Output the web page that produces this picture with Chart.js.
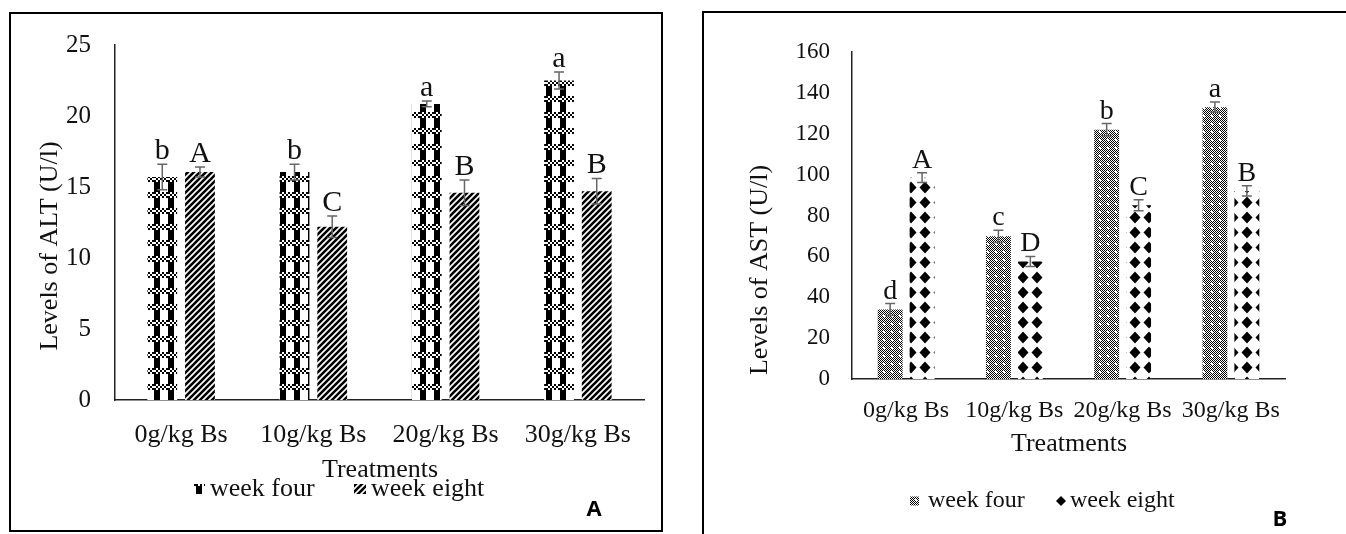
<!DOCTYPE html>
<html>
<head>
<meta charset="utf-8">
<title>Levels of ALT and AST</title>
<script src="https://cdn.jsdelivr.net/npm/chart.js@4.4.0/dist/chart.umd.min.js"></script>
<style>
	html, body { margin: 0; padding: 0; background: #fff; overflow: hidden; }
	body { width: 1346px; height: 534px; position: relative; }
	.frame { position: absolute; border: 2px solid #000; box-sizing: border-box; }
	#frameA { left: 9px; top: 12px; width: 654px; height: 520px; }
	#frameB { left: 702px; top: 11px; width: 700px; height: 600px; }
	.box { position: absolute; top: 0; }
</style>
</head>
<body>
<div class="frame" id="frameA"></div>
<div class="frame" id="frameB"></div>
<div class="box" style="left:0;width:672px;height:534px"><canvas id="chartA"></canvas></div>
<div class="box" style="left:680px;width:666px;height:534px"><canvas id="chartB"></canvas></div>
<script>
	// data
	const treatments = ['0g/kg Bs', '10g/kg Bs', '20g/kg Bs', '30g/kg Bs'];
	const seriesNames = ['week four', 'week eight'];

	const altWeekFour = [15.7, 16.05, 20.85, 22.5];
	const altWeekFourErr = [0.9, 0.55, 0.2, 0.6];
	const altWeekEight = [16.05, 12.2, 14.6, 14.7];
	const altWeekEightErr = [0.35, 0.75, 0.9, 0.9];
	const altFourLetters = ['b', 'b', 'a', 'a'];
	const altEightLetters = ['A', 'C', 'B', 'B'];
	const altMax = 25, altStep = 5;

	const astWeekFour = [34, 69.8, 122, 133];
	const astWeekFourErr = [2.9, 3, 3, 2.5];
	const astWeekEight = [98.5, 57.5, 85, 92];
	const astWeekEightErr = [2.4, 2.5, 2.7, 2.5];
	const astFourLetters = ['d', 'c', 'b', 'a'];
	const astEightLetters = ['A', 'D', 'C', 'B'];
	const astMax = 160, astStep = 20;

	const serif = "'Liberation Serif', 'Times New Roman', serif";

	function tile(w, h, draw) {
		const c = document.createElement('canvas');
		c.width = w; c.height = h;
		const g = c.getContext('2d');
		g.fillStyle = '#fff';
		g.fillRect(0, 0, w, h);
		g.fillStyle = '#000';
		g.strokeStyle = '#000';
		draw(g);
		return c;
	}

	// checkered bands over black vertical stripes
	const checkTile = tile(14, 16, g => {
		g.fillRect(0, 0, 6, 16);
		g.fillStyle = '#fff';
		g.fillRect(0, 0, 14, 6);
		g.fillStyle = '#000';
		for (let x = 0; x < 14; x += 2)
			for (let y = 0; y < 6; y += 2)
				if (((x + y) / 2) % 2 === 0) g.fillRect(x, y, 2, 2);
	});
	// upward diagonal hatching
	const hatchTile = tile(6, 6, g => {
		g.lineWidth = 2.6;
		g.beginPath();
		g.moveTo(-1, 7); g.lineTo(7, -1);
		g.moveTo(-1, 1); g.lineTo(1, -1);
		g.moveTo(5, 7); g.lineTo(7, 5);
		g.stroke();
	});
	// fine grey checker with white dots
	const dotTile = tile(8, 8, g => {
		for (let x = 0; x < 8; x++)
			for (let y = 0; y < 8; y++)
				if ((x + y) % 2 === 0) g.fillRect(x, y, 1, 1);
		g.fillStyle = '#fff';
		g.fillRect(3, 3, 2, 2);
	});
	// black diamonds on white
	const diamondTile = tile(14, 15, g => {
		g.beginPath();
		g.moveTo(7, 1.5); g.lineTo(12.5, 7.5); g.lineTo(7, 13.5); g.lineTo(1.5, 7.5);
		g.closePath();
		g.fill();
	});

	function overlay(spec) {
		return {
			id: 'overlay',
			afterDatasetsDraw(chart) {
				const ctx = chart.ctx, y = chart.scales.y;
				ctx.save();
				spec.series.forEach((s, i) => {
					chart.getDatasetMeta(i).data.forEach((bar, j) => {
						const top = y.getPixelForValue(s.values[j] + s.errors[j]);
						const bot = y.getPixelForValue(s.values[j] - s.errors[j]);
						ctx.strokeStyle = '#666';
						ctx.lineWidth = 1.5;
						ctx.beginPath();
						ctx.moveTo(bar.x, top); ctx.lineTo(bar.x, bot);
						ctx.moveTo(bar.x - 5, top); ctx.lineTo(bar.x + 5, top);
						ctx.moveTo(bar.x - 5, bot); ctx.lineTo(bar.x + 5, bot);
						ctx.stroke();
						ctx.fillStyle = '#111';
						ctx.font = spec.letterFont;
						ctx.textAlign = 'center';
						ctx.textBaseline = 'alphabetic';
						ctx.fillText(s.letters[j], bar.x, top - 5);
					});
				});
				ctx.restore();
			},
			afterDraw(chart) {
				const ctx = chart.ctx;
				ctx.save();
				ctx.fillStyle = '#111';
				ctx.font = spec.titleFont;
				ctx.textAlign = 'center';
				ctx.textBaseline = 'middle';
				ctx.save();
				ctx.translate(spec.yTitle[0], spec.yTitle[1]);
				ctx.rotate(-Math.PI / 2);
				ctx.fillText(spec.yTitleText, 0, 0);
				ctx.restore();
				ctx.fillText('Treatments', spec.xTitle[0], spec.xTitle[1]);

				ctx.font = spec.legendFont;
				ctx.textAlign = 'left';
				spec.legend.forEach((item, i) => {
					if (item.diamond) {
						ctx.fillStyle = '#000';
						ctx.beginPath();
						ctx.moveTo(item.x + 5, spec.legendY - 5);
						ctx.lineTo(item.x + 10, spec.legendY);
						ctx.lineTo(item.x + 5, spec.legendY + 5);
						ctx.lineTo(item.x, spec.legendY);
						ctx.closePath();
						ctx.fill();
					} else {
						ctx.fillStyle = spec.series[i].fill;
						ctx.fillRect(item.x, spec.legendY - item.h / 2, item.w, item.h);
					}
					ctx.fillStyle = '#111';
					ctx.fillText(seriesNames[i], item.tx, spec.legendY);
				});

				ctx.font = "bold 22px 'Open Sans', 'Liberation Sans', sans-serif";
				ctx.fillStyle = '#000';
				ctx.textAlign = 'center';
				ctx.fillText(spec.panel, spec.panelPos[0], spec.panelPos[1]);
				ctx.restore();
			}
		};
	}

	function makeChart(id, cfg) {
		const ctx = document.getElementById(id).getContext('2d');
		const fills = cfg.tiles.map(t => ctx.createPattern(t, 'repeat'));
		cfg.spec.series.forEach((s, i) => s.fill = fills[i]);
		return new Chart(ctx, {
			type: 'bar',
			data: {
				labels: treatments,
				datasets: cfg.spec.series.map((s, i) => ({
					label: seriesNames[i],
					data: s.values,
					backgroundColor: fills[i],
					borderWidth: 0,
					categoryPercentage: cfg.cp,
					barPercentage: cfg.bp
				}))
			},
			options: {
				responsive: true,
				maintainAspectRatio: false,
				animation: false,
				layout: { padding: cfg.padding },
				plugins: { legend: { display: false }, tooltip: { enabled: false } },
				scales: {
					x: {
						ticks: { padding: cfg.xPad, color: '#111', font: { family: serif, size: cfg.xFont } },
						grid: { display: false, drawTicks: false },
						border: { display: true, color: '#222', width: 1.5 },
						afterFit: s => { s.height = cfg.xHeight; }
					},
					y: {
						min: 0,
						max: cfg.max,
						ticks: { stepSize: cfg.step, padding: cfg.yPad, color: '#111', font: { family: serif, size: cfg.yFont } },
						grid: { display: false, drawTicks: false },
						border: { display: true, color: '#222', width: 1.5 },
						afterFit: s => { s.width = cfg.yWidth; }
					}
				}
			},
			plugins: [overlay(cfg.spec)]
		});
	}

	makeChart('chartA', {
		tiles: [checkTile, hatchTile],
		cp: 0.57, bp: 0.79,
		padding: { left: 0, top: 45, right: 28, bottom: 0 },
		max: altMax, step: altStep,
		xPad: 20, xFont: 26, xHeight: 134,
		yPad: 24, yFont: 25, yWidth: 115,
		spec: {
			series: [
				{ values: altWeekFour, errors: altWeekFourErr, letters: altFourLetters },
				{ values: altWeekEight, errors: altWeekEightErr, letters: altEightLetters }
			],
			letterFont: '30px ' + serif,
			titleFont: '26px ' + serif,
			legendFont: '26px ' + serif,
			yTitleText: 'Levels of ALT (U/l)',
			yTitle: [50, 246],
			xTitle: [380, 470],
			legendY: 489,
			legend: [{ x: 193, w: 12, h: 10, tx: 210 }, { x: 354, w: 12, h: 10, tx: 371 }],
			panel: 'A',
			panelPos: [594, 510]
		}
	});

	makeChart('chartB', {
		tiles: [dotTile, diamondTile],
		cp: 0.59, bp: 0.78,
		padding: { left: 0, top: 52, right: 61, bottom: 0 },
		max: astMax, step: astStep,
		xPad: 17, xFont: 24, xHeight: 155,
		yPad: 22, yFont: 23, yWidth: 172,
		spec: {
			series: [
				{ values: astWeekFour, errors: astWeekFourErr, letters: astFourLetters },
				{ values: astWeekEight, errors: astWeekEightErr, letters: astEightLetters }
			],
			letterFont: '28px ' + serif,
			titleFont: '26px ' + serif,
			legendFont: '24px ' + serif,
			yTitleText: 'Levels of AST (U/l)',
			yTitle: [80, 270],
			xTitle: [389, 444],
			legendY: 501,
			legend: [{ x: 230, w: 9, h: 9, tx: 248 }, { x: 376, diamond: true, tx: 390 }],
			panel: 'B',
			panelPos: [600, 520]
		}
	});
</script>
</body>
</html>
